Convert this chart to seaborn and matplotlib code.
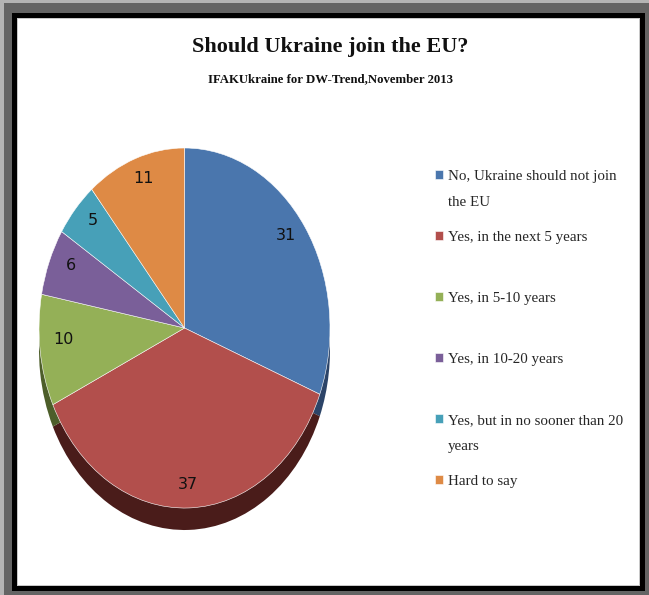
import matplotlib
matplotlib.use("Agg")
import matplotlib.pyplot as plt
from matplotlib.patches import Rectangle
import seaborn as sns

# ---- data ----
categories = [
    "No, Ukraine should not join\nthe EU",
    "Yes, in the next 5 years",
    "Yes, in 5-10 years",
    "Yes, in 10-20 years",
    "Yes, but in no sooner than 20\nyears",
    "Hard to say",
]
values = [31, 37, 10, 6, 5, 11]
colors = ["#4A76AD", "#B24F4C", "#94B057", "#7A5F99", "#47A0B8", "#DE8A45"]
shadow_colors = ["#2c4468", "#4a1c1a", "#4d5e2a", "#3c2d4d", "#22505c", "#6e4220"]
title = "Should Ukraine join the EU?"
subtitle = "IFAKUkraine for DW-Trend,November 2013"

sns.set_theme(style="white")
serif = ["Liberation Serif", "DejaVu Serif"]
sans = ["DejaVu Sans"]

W, H = 649, 595
fig = plt.figure(figsize=(W / 100, H / 100), dpi=100, facecolor="#646464")

def frect(x0, y0, x1, y1, color):
    fig.patches.append(Rectangle((x0 / W, 1 - y1 / H), (x1 - x0) / W, (y1 - y0) / H,
                                 transform=fig.transFigure, facecolor=color,
                                 edgecolor="none", zorder=-10))

# frame
frect(0, 0, W, 3, "#b4b4b4")
frect(0, 0, 4, H, "#b4b4b4")
frect(12, 13, 645, 591, "#000000")
frect(17, 18, 640, 586, "#c8c8c8")
frect(18, 19, 639, 585, "#ffffff")

# pie axes
ax = fig.add_axes([39 / W, 1 - 530 / H, 291 / W, 382 / H])
ax.set_facecolor("none")
ax.pie(values, colors=shadow_colors, startangle=90, counterclock=False,
       center=(0, -0.122), wedgeprops=dict(linewidth=0))
wedges, texts, autotexts = ax.pie(
    values, colors=colors, startangle=90, counterclock=False,
    autopct=lambda p: f"{p:.0f}", pctdistance=0.84,
    wedgeprops=dict(linewidth=0.4, edgecolor="#ffffff"),
    textprops=dict(fontsize=11.5, color="#111111", family=sans))
for i, t in enumerate(autotexts):
    x, y = t.get_position()
    if i == 1:
        y = y * 1.085
    t.set_position((x, y + 0.04))
ax.set_aspect("auto")
ax.set_xlim(-1.0, 1.0)
ax.set_ylim(-1.122, 1.0)
ax.axis("off")

# titles
fig.text(330 / W, 1 - 47 / H, title, ha="center", va="center", fontsize=16,
         fontweight="bold", family=serif, color="#111111")
fig.text(330 / W, 1 - 79 / H, subtitle, ha="center", va="center", fontsize=9.2,
         fontweight="bold", family=serif, color="#111111")

# legend (every entry occupies two text lines, as in the reference)
legend_labels = [c if "\n" in c else c + "\n" for c in categories]
leg = fig.legend(wedges, legend_labels, loc="upper left",
                 bbox_to_anchor=(435 / W, 1 - 170 / H), frameon=False,
                 prop=dict(family=serif, size=10.8), handlelength=0.5,
                 handleheight=0.5, handletextpad=0.35, labelspacing=1.47,
                 borderpad=0, borderaxespad=0)
for t in leg.get_texts():
    t.set_color("#262626")
    t.set_linespacing(2.3)
try:
    for col in leg._legend_handle_box.get_children():
        for row in col.get_children():
            row.align = "top"
except Exception:
    pass

fig.savefig("out.png", dpi=100, facecolor=fig.get_facecolor())
